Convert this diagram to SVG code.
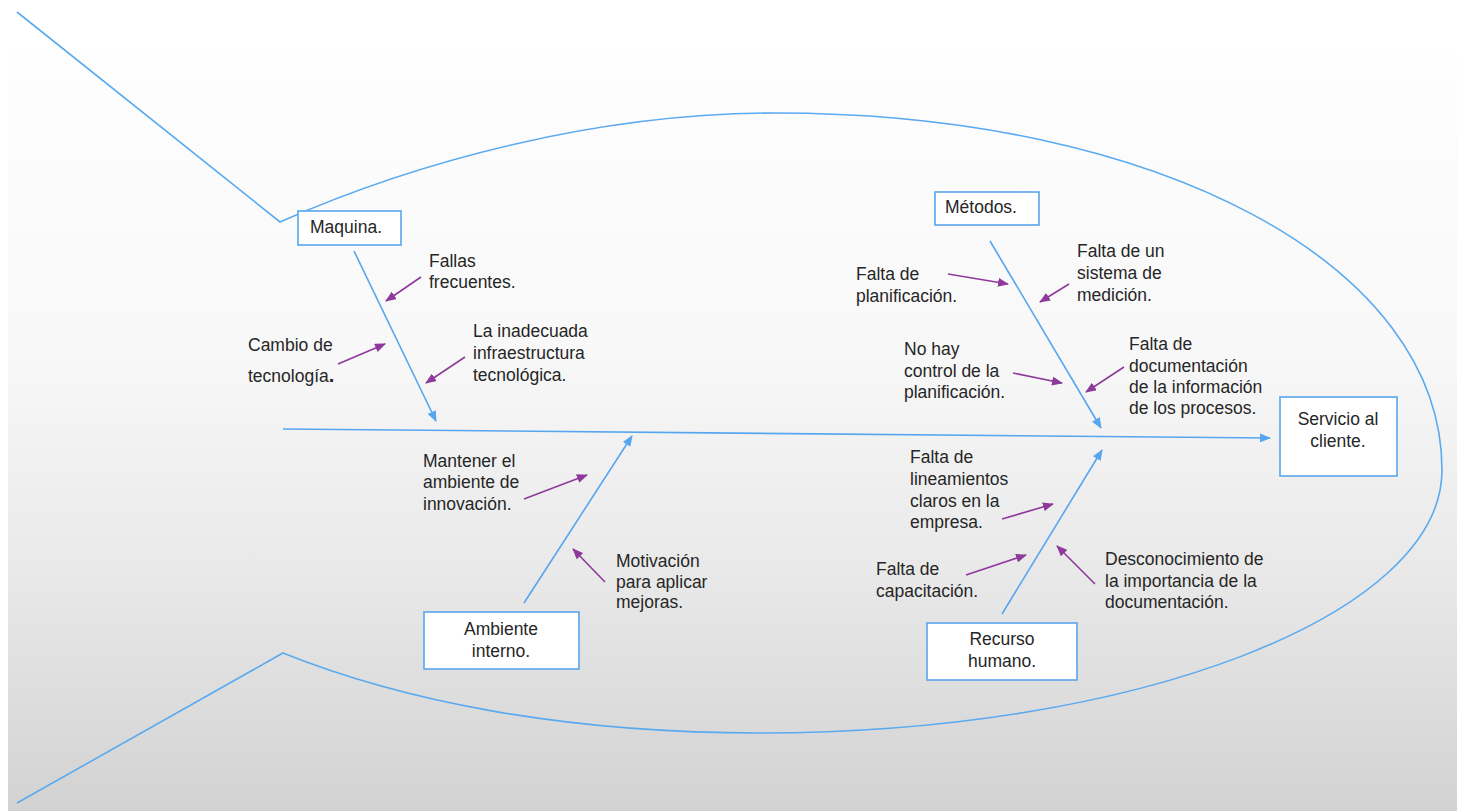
<svg xmlns="http://www.w3.org/2000/svg" width="1457" height="811" viewBox="0 0 1457 811">
<defs>
<linearGradient id="bg" x1="0" y1="0" x2="0" y2="1">
<stop offset="0" stop-color="#fefefe"/>
<stop offset="0.4" stop-color="#f8f8f8"/>
<stop offset="0.7" stop-color="#e8e8e8"/>
<stop offset="1" stop-color="#d2d2d2"/>
</linearGradient>
<marker id="ab" markerUnits="userSpaceOnUse" markerWidth="11" markerHeight="9" refX="10" refY="4.5" orient="auto"><path d="M0,0 L11,4.5 L0,9 z" fill="#55a6ee"/></marker>
<marker id="ap" markerUnits="userSpaceOnUse" markerWidth="11" markerHeight="9" refX="10" refY="4.5" orient="auto"><path d="M0,0 L11,4.5 L0,9 z" fill="#8e3a9b"/></marker>
<style>
.t{font-family:"Liberation Sans",Arial,sans-serif;font-size:17.5px;fill:#262626}
.c{text-anchor:middle}
.box{fill:#ffffff;stroke:#5ba6ec;stroke-width:1.6}
.bl{fill:none;stroke:#5aaaf0;stroke-width:1.6}
.ba{fill:none;stroke:#55a6ee;stroke-width:1.6;marker-end:url(#ab)}
.pa{fill:none;stroke:#8e3a9b;stroke-width:1.6;marker-end:url(#ap)}
</style>
</defs>
<rect x="0" y="0" width="1457" height="811" fill="#ffffff"/>
<rect x="8" y="48" width="1449" height="763" fill="url(#bg)"/>
<g id="fish-outline">
<path class="bl" d="M17,12 L280,222 C420,160 600,113 775,113 C1160,113 1442,265 1442,470 C1442,615 1137,733 760,733 C560,733 400,700 283,653 L17,803"/>
</g>
<g id="connectors">
<line class="ba" x1="283" y1="429" x2="1270" y2="438"/>
<line class="ba" x1="354" y1="251" x2="436" y2="421"/>
<line class="ba" x1="990" y1="241" x2="1101" y2="428"/>
<line class="ba" x1="524" y1="603" x2="632" y2="436"/>
<line class="ba" x1="1002" y1="614" x2="1102" y2="450"/>
<line class="pa" x1="421" y1="277" x2="386" y2="301"/>
<line class="pa" x1="338" y1="364" x2="385" y2="344"/>
<line class="pa" x1="465" y1="357" x2="426" y2="383"/>
<line class="pa" x1="948" y1="274" x2="1008" y2="284"/>
<line class="pa" x1="1069" y1="284" x2="1040" y2="302"/>
<line class="pa" x1="1013" y1="373" x2="1062" y2="383"/>
<line class="pa" x1="1124" y1="367" x2="1086" y2="392"/>
<line class="pa" x1="524" y1="499" x2="587" y2="475"/>
<line class="pa" x1="605" y1="582" x2="573" y2="549"/>
<line class="pa" x1="1002" y1="519" x2="1053" y2="504"/>
<line class="pa" x1="966" y1="575" x2="1026" y2="555"/>
<line class="pa" x1="1095" y1="584" x2="1057" y2="546"/>
</g>
<g id="maquina">
<rect class="box" x="298" y="211" width="103" height="34"/>
<text class="t" x="310" y="233">Maquina.</text>
</g>
<g id="metodos">
<rect class="box" x="935" y="192" width="104" height="33"/>
<text class="t" x="945" y="213">Métodos.</text>
</g>
<g id="servicio">
<rect class="box" x="1280" y="397" width="117" height="79"/>
<text class="t c" x="1338" y="425">Servicio al</text>
<text class="t c" x="1338" y="447">cliente.</text>
</g>
<g id="ambiente">
<rect class="box" x="424" y="612" width="155" height="57"/>
<text class="t c" x="501" y="635">Ambiente</text>
<text class="t c" x="501" y="657">interno.</text>
</g>
<g id="recurso">
<rect class="box" x="927" y="623" width="150" height="57"/>
<text class="t c" x="1002" y="645">Recurso</text>
<text class="t c" x="1002" y="667">humano.</text>
</g>
<g id="fallas">
<text class="t" x="429" y="267">Fallas</text>
<text class="t" x="429" y="288">frecuentes.</text>
</g>
<g id="cambio">
<text class="t" x="248" y="351">Cambio de</text>
<text class="t" x="248" y="382">tecnología<tspan font-weight="bold" font-size="20">.</tspan></text>
</g>
<g id="inadecuada">
<text class="t" x="473" y="337">La inadecuada</text>
<text class="t" x="473" y="359">infraestructura</text>
<text class="t" x="473" y="381">tecnológica.</text>
</g>
<g id="falta-planificacion">
<text class="t" x="856" y="280">Falta de</text>
<text class="t" x="856" y="302">planificación.</text>
</g>
<g id="falta-sistema">
<text class="t" x="1077" y="257">Falta de un</text>
<text class="t" x="1077" y="279">sistema de</text>
<text class="t" x="1077" y="301">medición.</text>
</g>
<g id="no-hay-control">
<text class="t" x="904" y="355">No hay</text>
<text class="t" x="904" y="377">control de la</text>
<text class="t" x="904" y="398">planificación.</text>
</g>
<g id="falta-documentacion">
<text class="t" x="1129" y="350">Falta de</text>
<text class="t" x="1129" y="372">documentación</text>
<text class="t" x="1129" y="393">de la información</text>
<text class="t" x="1129" y="414">de los procesos.</text>
</g>
<g id="mantener">
<text class="t" x="423" y="467">Mantener el</text>
<text class="t" x="423" y="488">ambiente de</text>
<text class="t" x="423" y="510">innovación.</text>
</g>
<g id="motivacion">
<text class="t" x="616" y="567">Motivación</text>
<text class="t" x="616" y="588">para aplicar</text>
<text class="t" x="616" y="608">mejoras.</text>
</g>
<g id="lineamientos">
<text class="t" x="910" y="463">Falta de</text>
<text class="t" x="910" y="485">lineamientos</text>
<text class="t" x="910" y="507">claros en la</text>
<text class="t" x="910" y="528">empresa.</text>
</g>
<g id="capacitacion">
<text class="t" x="876" y="575">Falta de</text>
<text class="t" x="876" y="597">capacitación.</text>
</g>
<g id="desconocimiento">
<text class="t" x="1105" y="565">Desconocimiento de</text>
<text class="t" x="1105" y="587">la importancia de la</text>
<text class="t" x="1105" y="608">documentación.</text>
</g>
</svg>
